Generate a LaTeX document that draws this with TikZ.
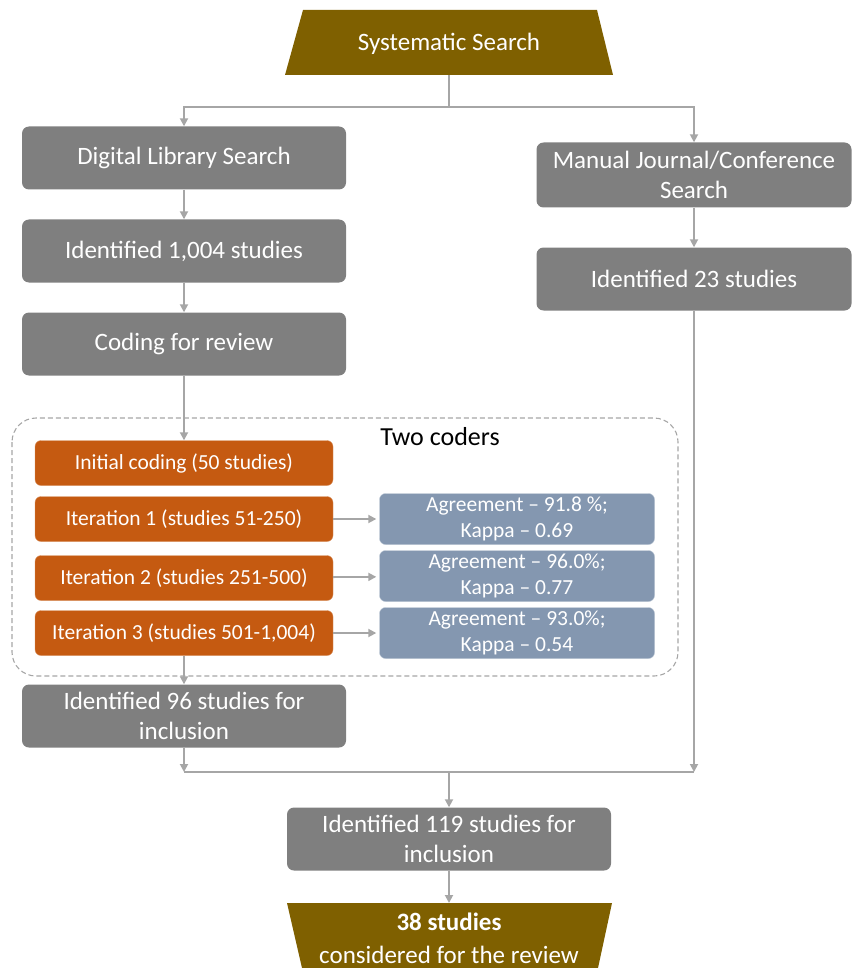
\documentclass[tikz,border=0pt]{standalone}
\usepackage{fontspec}
\setmainfont{Carlito}
\usetikzlibrary{arrows.meta}
\definecolor{boxgray}{HTML}{7F7F7F}
\definecolor{codeorange}{HTML}{C55A11}
\definecolor{agreeblue}{HTML}{8497B0}
\definecolor{searchbrown}{HTML}{7F6000}
\definecolor{linegray}{HTML}{A6A6A6}

\begin{document}
\begin{tikzpicture}[x=1pt,y=-1pt,
  every node/.style={align=center},
  stage/.style={fill=boxgray,text=white,rounded corners=7pt,minimum width=324pt,minimum height=63pt,font=\fontsize{25}{30}\selectfont},
  coding/.style={fill=codeorange,draw=codeorange!65!white,text=white,rounded corners=6pt,minimum width=298pt,minimum height=45pt,font=\fontsize{21.5}{25}\selectfont},
  kappa/.style={fill=agreeblue,draw=agreeblue!55!white,text=white,rounded corners=6pt,minimum width=275pt,minimum height=51pt,font=\fontsize{21.5}{26}\selectfont},
  link/.style={draw=linegray,line width=1.8pt},
  flow/.style={link,-{Triangle[length=8pt,width=8pt]}}]
\useasboundingbox (0,0) rectangle (852,968);

\fill[searchbrown] (303,10) -- (597,10) -- (613,75) -- (285,75) -- cycle;
\node[text=white,font=\fontsize{25}{30}\selectfont] (sys) at (449,44) {Systematic Search};
\coordinate (sysb) at (449,75);
\coordinate (split) at (449,107);

\node[stage] (dls) at (184,158) {Digital Library Search};
\node[stage] (id1004) at (184,251) {Identified 1,004 studies};
\node[stage] (cfr) at (184,344) {Coding for review};
\node[stage,minimum width=315pt,minimum height=65pt] (mjc) at (694,175) {Manual Journal/Conference\\Search};
\node[stage,minimum width=315pt] (id23) at (694,279) {Identified 23 studies};

\draw[dash pattern=on 5pt off 3pt,draw=gray!70,line width=1.1pt,rounded corners=24pt] (12,418) rectangle (678,676);
\node[font=\fontsize{26}{30}\selectfont] (two) at (440,437) {Two coders};

\node[coding] (init) at (184,463) {Initial coding (50 studies)};
\node[coding] (it1) at (184,519) {Iteration 1 (studies 51-250)};
\node[coding] (it2) at (184,578) {Iteration 2 (studies 251-500)};
\node[coding] (it3) at (184,633) {Iteration 3 (studies 501-1,004)};
\node[kappa] (ag1) at (517,519) {Agreement -- 91.8 \%;\\Kappa -- 0.69};
\node[kappa] (ag2) at (517,576) {Agreement -- 96.0\%;\\Kappa -- 0.77};
\node[kappa] (ag3) at (517,633) {Agreement -- 93.0\%;\\Kappa -- 0.54};

\node[stage] (id96) at (184,716) {Identified 96 studies for\\inclusion};
\node[stage] (id119) at (449,839) {Identified 119 studies for\\inclusion};

\fill[searchbrown] (287,903) -- (612,903) -- (598,968) -- (302,968) -- cycle;
\node[text=white,font=\fontsize{25}{33}\selectfont] (final) at (449,938) {\textbf{38 studies}\\considered for the review};
\coordinate (finalt) at (449,903);

\coordinate (j96) at (184,772);
\coordinate (j23) at (694,772);
\coordinate (jmid) at (449,772);

\draw[link] (sysb) -- (split);
\draw[flow] (split) -| (dls);
\draw[flow] (split) -| (mjc);
\draw[flow] (dls) -- (id1004);
\draw[flow] (id1004) -- (cfr);
\draw[flow] (cfr) -- (init);
\draw[flow] (mjc) -- (id23);
\draw[flow,shorten >=3pt] (it1) -- (ag1);
\draw[flow,shorten >=3pt] (it2) -- (ag2);
\draw[flow,shorten >=3pt] (it3) -- (ag3);
\draw[flow] (it3) -- (id96);
\draw[flow] (id96) -- (j96);
\draw[flow] (id23) -- (j23);
\draw[link] (j96) -- (j23);
\draw[flow] (jmid) -- (id119);
\draw[flow] (id119) -- (finalt);
\end{tikzpicture}
\end{document}
